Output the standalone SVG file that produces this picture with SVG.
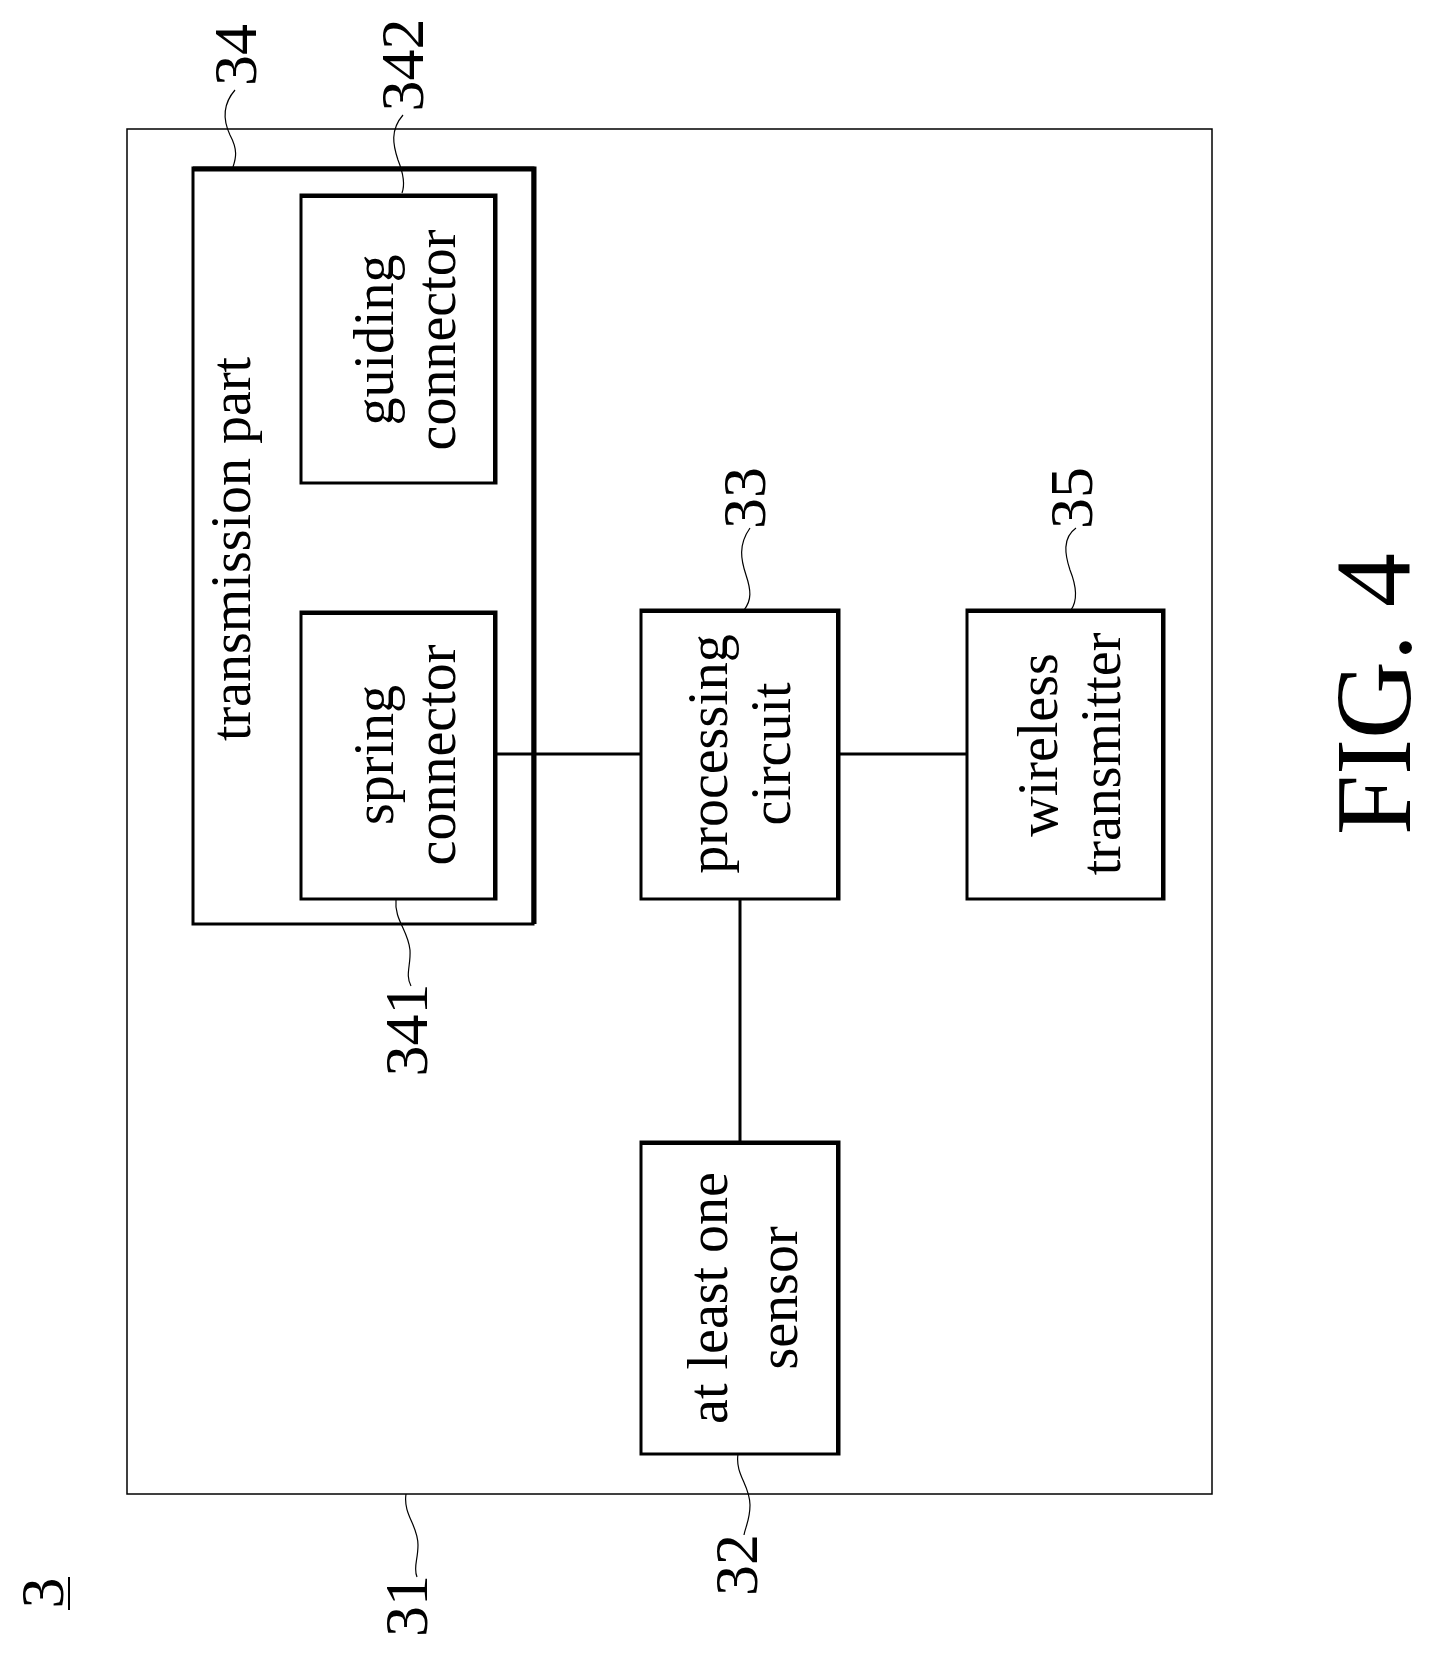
<svg xmlns="http://www.w3.org/2000/svg" width="1430" height="1655" viewBox="0 0 1430 1655">
<style>
.b{fill:none;stroke:#000;stroke-width:3}
.c{fill:none;stroke:#000;stroke-width:3}
.l{fill:none;stroke:#000;stroke-width:1.2}
.t{font-family:"Liberation Serif",serif;font-size:56px;text-anchor:middle;fill:#000}
.n{font-family:"Liberation Serif",serif;font-size:62px;text-anchor:middle;fill:#000}
</style>
<rect width="1430" height="1655" fill="#fff"/>
<g id="n31"><rect x="127" y="129" width="1085" height="1365" fill="none" stroke="#000" stroke-width="1.5"/></g>
<g id="n34"><rect class="b" x="193" y="168" width="340" height="756"/><path d="M193,169H534V924" fill="none" stroke="#000" stroke-width="5"/>
<text class="t" transform="translate(250,549) rotate(-90)">transmission part</text></g>
<g id="n342"><rect class="b" x="301" y="195" width="195" height="288"/><path d="M301,196H495V483" fill="none" stroke="#000" stroke-width="4"/>
<text class="t" transform="translate(393,340) rotate(-90)">guiding</text><text class="t" transform="translate(455,340) rotate(-90)">connector</text></g>
<g id="n341"><rect class="b" x="301" y="612" width="195" height="287"/><path d="M301,613H495V899" fill="none" stroke="#000" stroke-width="4"/>
<text class="t" transform="translate(393,755) rotate(-90)">spring</text><text class="t" transform="translate(455,755) rotate(-90)">connector</text></g>
<g id="n33"><rect class="b" x="641" y="610" width="198" height="289"/><path d="M641,611H838V899" fill="none" stroke="#000" stroke-width="4"/>
<text class="t" transform="translate(727,754) rotate(-90)">processing</text><text class="t" transform="translate(790,754) rotate(-90)">circuit</text></g>
<g id="n35"><rect class="b" x="967" y="610" width="197" height="289"/><path d="M967,611H1163V899" fill="none" stroke="#000" stroke-width="4"/>
<text class="t" transform="translate(1057,745) rotate(-90)">wireless</text><text class="t" transform="translate(1120,754) rotate(-90)">transmitter</text></g>
<g id="n32"><rect class="b" x="641" y="1142" width="198" height="312"/><path d="M641,1143H838V1454" fill="none" stroke="#000" stroke-width="4"/>
<text class="t" transform="translate(727,1298) rotate(-90)">at least one</text><text class="t" transform="translate(797,1298) rotate(-90)">sensor</text></g>
<g id="connectors">
<path class="c" d="M496,754H641M839,754H967M740,899V1142"/>
</g>
<g id="leaders">
<path class="l" d="M235,90C222,105 223,120 230,135C238,150 236,158 233,167"/>
<path class="l" d="M403,115C390,130 393,145 398,160C404,175 405,185 402,193"/>
<path class="l" d="M750,528C738,545 741,560 746,575C751,590 752,600 744,610"/>
<path class="l" d="M1076,528C1062,538 1065,555 1070,570C1076,585 1078,600 1071,610"/>
<path class="l" d="M396,899C394,920 408,930 410,950C411,965 405,975 411,986"/>
<path class="l" d="M406,1494C403,1515 418,1525 418,1545C418,1560 413,1568 417,1577"/>
<path class="l" d="M738,1454C735,1475 750,1485 750,1505C750,1520 745,1528 744,1535"/>
</g>
<g id="labels">
<text class="n" transform="translate(256,55) rotate(-90)">34</text>
<text class="n" transform="translate(423,65) rotate(-90)">342</text>
<text class="n" transform="translate(765,498) rotate(-90)">33</text>
<text class="n" transform="translate(1092,498) rotate(-90)">35</text>
<text class="n" transform="translate(427,1030) rotate(-90)">341</text>
<text class="n" transform="translate(427,1606) rotate(-90)">31</text>
<text class="n" transform="translate(757,1565) rotate(-90)">32</text>
<text class="n" transform="translate(63,1593) rotate(-90)">3</text>
<path d="M69,1577V1610" stroke="#000" stroke-width="2"/>
<text class="n" style="font-size:108px" transform="translate(1410,694) rotate(-90)">FIG. 4</text>
</g>
</svg>
